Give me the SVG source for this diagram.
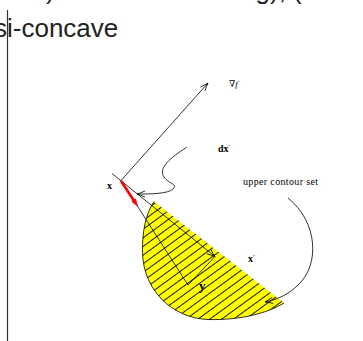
<svg xmlns="http://www.w3.org/2000/svg" width="363" height="341" viewBox="0 0 363 341">
<style>
.slide{font-family:"Liberation Sans",Arial,sans-serif;font-size:26px;fill:#222}
.lbl{font-family:"Liberation Serif","DejaVu Serif",serif;fill:#000}
.ln{fill:none;stroke:#000;stroke-width:0.8}
</style>
<defs>
<marker id="ah" viewBox="-10 -5 12 10" refX="0" refY="0" markerWidth="12" markerHeight="10" markerUnits="userSpaceOnUse" orient="auto">
<path d="M-8,-3 Q-3,-0.8 0,0 Q-3,0.8 -8,3" fill="none" stroke="#000" stroke-width="0.8"/>
</marker>
<pattern id="hatch" patternUnits="userSpaceOnUse" width="12" height="7" patternTransform="rotate(-36)">
<rect width="12" height="7" fill="#ffff00"/>
<line x1="0" y1="3.5" x2="12" y2="3.5" stroke="#000" stroke-width="0.9"/>
</pattern>
</defs>
<rect width="363" height="341" fill="#fff"/>
<g id="slide-text">
<text class="slide" x="38.8" y="-1.5">f) are the same as g), (i.e. the</text>
<text class="slide" x="-6" y="36.5">si-concave</text>
<line x1="7.5" y1="10" x2="7.5" y2="341" stroke="#333" stroke-width="1.2"/>
</g>
<g id="upper-contour-region">
<path d="M154,201.5 C146,213 142,232 142.5,252 C143,290 172,318 208,319.5 C240,320.5 268,313 284,303 Z" fill="url(#hatch)"/>
<path d="M154,201.5 C146,213 142,232 142.5,252 C143,290 172,318 208,319.5 C240,320.5 268,313 284,303" class="ln"/>
</g>
<g id="connectors">
<line x1="121" y1="180.5" x2="208" y2="83" class="ln" marker-end="url(#ah)"/>
<line x1="112" y1="173.5" x2="215" y2="256.5" class="ln" marker-end="url(#ah)"/>
<line x1="121" y1="180.5" x2="188" y2="285" class="ln"/>
<line x1="188" y1="285" x2="215" y2="256.5" class="ln"/>
<path d="M186.7,147.3 C170,158 158,168 164,177 C169,184 178,184 173,189 C168,194 150,194 137,194" class="ln" marker-end="url(#ah)"/>
<path d="M288,198 C318,222 320,265 298,285 C290,293 280,299 265,302" class="ln" marker-end="url(#ah)"/>
<line x1="121" y1="181" x2="134.5" y2="201.5" stroke="#ff0000" stroke-width="2.6"/>
<polygon points="137.5,206 135.5,198.9 131.8,201.4" fill="#ff0000" stroke="#ff0000" stroke-width="0.8"/>
</g>
<g id="label-gradf"><text class="lbl" x="229" y="87" font-size="9">∇<tspan font-style="italic">f</tspan></text></g>
<g id="label-dx"><text class="lbl" x="218" y="152" font-size="10" font-weight="bold">dx<tspan font-size="7" dy="-3.5" font-weight="normal">′</tspan></text></g>
<g id="label-x"><text class="lbl" x="107" y="189" font-size="10" font-weight="bold">x</text></g>
<g id="label-upper"><text class="lbl" x="243" y="185" font-size="10" textLength="75" lengthAdjust="spacing">upper contour set</text></g>
<g id="label-xprime"><text class="lbl" x="248" y="262" font-size="10" font-weight="bold">x<tspan font-size="7" dy="-3.5" font-weight="normal">′</tspan></text></g>
<g id="label-y"><text class="lbl" x="199" y="290" font-size="13" font-weight="bold">y</text></g>
</svg>
